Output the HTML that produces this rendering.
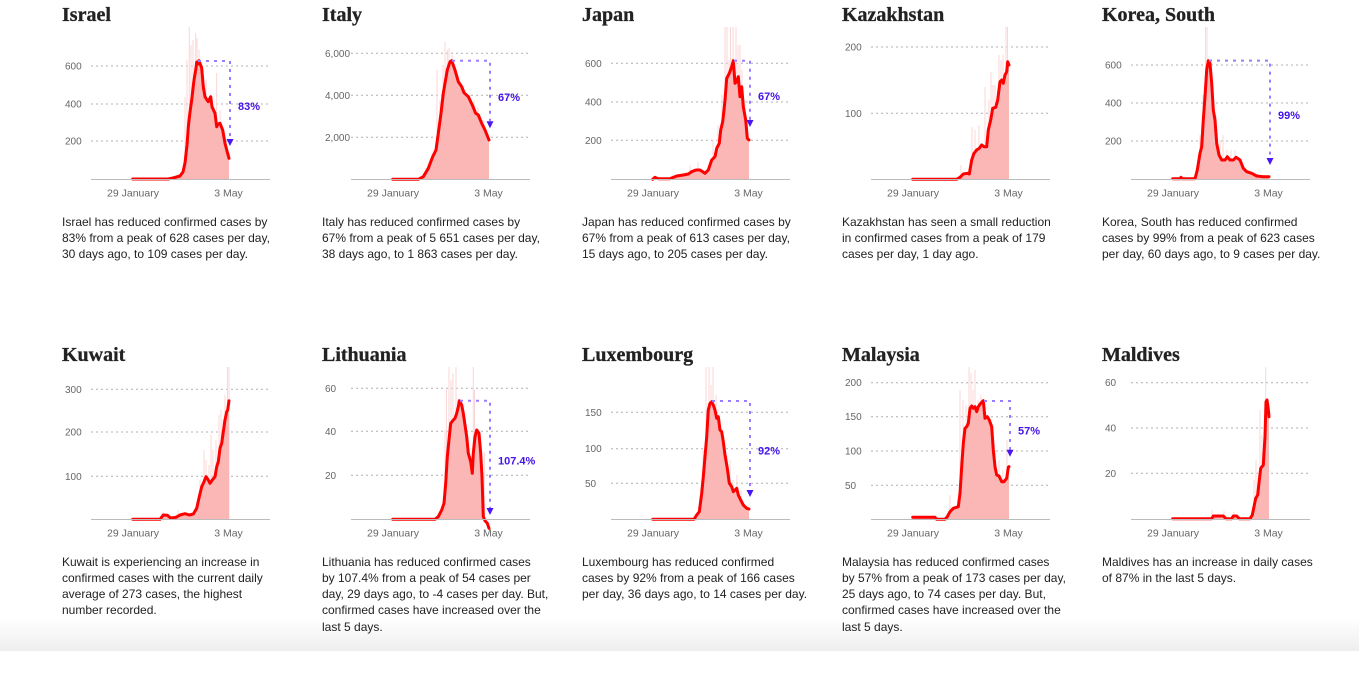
<!DOCTYPE html>
<html><head><meta charset="utf-8">
<style>
html,body{margin:0;padding:0;background:#fff;}
body{width:1359px;height:651px;position:relative;overflow:hidden;font-family:"Liberation Sans",sans-serif;}
.cell{position:absolute;width:260px;height:340px;}
.t{position:absolute;left:62px;top:5px;font-family:"Liberation Serif",serif;font-weight:bold;font-size:20px;line-height:20px;color:#222;white-space:nowrap;-webkit-text-stroke:0.3px #222;}
.p{position:absolute;left:62px;top:213.5px;font-size:12px;line-height:16.3px;color:#222;white-space:nowrap;}
svg{position:absolute;left:0;top:0;overflow:visible;}
.g{stroke:#b0b0b0;stroke-width:1;stroke-dasharray:2 3;}
.ax{stroke:#bbb;stroke-width:1;}
.yl{font-family:"Liberation Sans",sans-serif;font-size:10px;fill:#666;}
.xl{font-family:"Liberation Sans",sans-serif;font-size:10.5px;fill:#666;text-anchor:middle;}
.ln{fill:none;stroke:#ff0000;stroke-width:3;stroke-linejoin:round;stroke-linecap:round;}
.ar{fill:#fbb6b6;}
.sp{stroke:#fbd6d6;stroke-width:1;fill:none;}
.an{stroke:#9b7bff;stroke-width:2;stroke-dasharray:3 5;fill:none;}
.tri{fill:#4a17f2;}
.pc{font-family:"Liberation Sans",sans-serif;font-weight:bold;font-size:11px;fill:#4515e6;}
.shadow{position:absolute;left:0;top:618px;width:1359px;height:33px;background:linear-gradient(to bottom,rgba(0,0,0,0),rgba(0,0,0,0.065));}
</style></head><body>

<!-- Israel -->
<div class="cell" style="left:0;top:0">
<div class="t">Israel</div>
<svg width="300" height="200" viewBox="0 0 300 200">
<line class="g" x1="91" y1="66" x2="269" y2="66"/><line class="g" x1="91" y1="104" x2="269" y2="104"/><line class="g" x1="91" y1="141" x2="269" y2="141"/>
<text class="yl" x="65" y="69.5">600</text><text class="yl" x="65" y="107.5">400</text><text class="yl" x="65" y="144.5">200</text>
<path class="sp" d="M185 179V97M187 179V60M189.3 179V27M191 179V45M193 179V40M195.7 179V33M197 179V38M199 179V50M202 179V70M206 179V80M216.7 179V73M220 179V110"/>
<polygon class="ar" points="132.7,179 168,179 173,178 180,176 183,172 185,163 187,145 188.3,127 190,112 191.7,100 194,80 195.7,70 196.7,62 198,64 199,60.7 200,63.3 201.7,68 203.3,86.7 205,96.7 207,100 208.3,101.7 210,98 210.7,96.7 212,106.7 215,113.3 216.7,126.7 218,124 220,123.3 222.7,130 225,143.3 227,151 229,158.3 229,179"/>
<polyline class="ln" points="132.7,179 168,179 173,178 180,176 183,172 185,163 187,145 188.3,127 190,112 191.7,100 194,80 195.7,70 196.7,62 198,64 199,60.7 200,63.3 201.7,68 203.3,86.7 205,96.7 207,100 208.3,101.7 210,98 210.7,96.7 212,106.7 215,113.3 216.7,126.7 218,124 220,123.3 222.7,130 225,143.3 227,151 229,158.3"/>
<line class="ax" x1="91" y1="179.5" x2="270" y2="179.5"/>
<path class="an" d="M198 61H230V139"/><polygon class="tri" points="226.5,139 233.5,139 230,146"/>
<text class="pc" x="238" y="110">83%</text>
<text class="xl" x="133" y="196.5">29 January</text><text class="xl" x="228.5" y="196.5">3 May</text>
</svg>
<div class="p">Israel has reduced confirmed cases by<br>83% from a peak of 628 cases per day,<br>30 days ago, to 109 cases per day.</div>
</div>

<!-- Italy -->
<div class="cell" style="left:260px;top:0">
<div class="t">Italy</div>
<svg width="300" height="200" viewBox="0 0 300 200">
<line class="g" x1="91" y1="53.3" x2="269" y2="53.3"/><line class="g" x1="91" y1="95.3" x2="269" y2="95.3"/><line class="g" x1="91" y1="137.3" x2="269" y2="137.3"/>
<text class="yl" x="65" y="56.8">6,000</text><text class="yl" x="65" y="98.8">4,000</text><text class="yl" x="65" y="140.8">2,000</text>
<path class="sp" d="M177 179V70M180 179V100M183 179V65M185 179V41.7M187.3 179V50M189 179V48M192 179V55M198 179V75M201 179V90M205 179V90M210 179V95M214 179V100M218 179V108M223 179V120"/>
<polygon class="ar" points="132.7,179.3 158.3,179.3 163.3,176.7 168.3,168.3 172.7,156.7 176,150 178.3,133.3 181,113.3 183.3,93.3 185,83.3 187.3,70 190,61.7 191.7,60.7 195,70 198.3,81.7 201.7,86.7 204,92.7 208.3,96.7 212.3,105 215.7,113.3 218.3,115 221.7,123.3 225,130 229,140 229,179.3"/>
<polyline class="ln" points="132.7,179.3 158.3,179.3 163.3,176.7 168.3,168.3 172.7,156.7 176,150 178.3,133.3 181,113.3 183.3,93.3 185,83.3 187.3,70 190,61.7 191.7,60.7 195,70 198.3,81.7 201.7,86.7 204,92.7 208.3,96.7 212.3,105 215.7,113.3 218.3,115 221.7,123.3 225,130 229,140"/>
<line class="ax" x1="91" y1="179.5" x2="270" y2="179.5"/>
<path class="an" d="M192 60.7H230V121"/><polygon class="tri" points="226.5,121.3 233.5,121.3 230,128.3"/>
<text class="pc" x="238" y="101">67%</text>
<text class="xl" x="133" y="196.5">29 January</text><text class="xl" x="228.5" y="196.5">3 May</text>
</svg>
<div class="p">Italy has reduced confirmed cases by<br>67% from a peak of 5 651 cases per day,<br>38 days ago, to 1 863 cases per day.</div>
</div>

<!-- Japan -->
<div class="cell" style="left:520px;top:0">
<div class="t">Japan</div>
<svg width="300" height="200" viewBox="0 0 300 200">
<line class="g" x1="91" y1="63.3" x2="269" y2="63.3"/><line class="g" x1="91" y1="102" x2="269" y2="102"/><line class="g" x1="91" y1="140.3" x2="269" y2="140.3"/>
<text class="yl" x="65" y="66.8">600</text><text class="yl" x="65" y="105.5">400</text><text class="yl" x="65" y="143.8">200</text>
<path class="sp" d="M170 179V165M178 179V162M193 179V140M198 179V125M202 179V95M205 179V27M207 179V27M209 179V60M210.5 179V27M213 179V27M216 179V27M218 179V45M220 179V45M222 179V70M225 179V100"/>
<polygon class="ar" points="132.7,179.3 135,177.3 138,178.7 150,178.7 156.7,176 163.3,175 168.3,174 171.7,171.7 176,170 180,170 185,173.3 188.3,170 191.7,160 195,156.7 196.7,148.3 199.3,143.3 200.7,130 202.7,121.7 204,110 205,100 206.7,78.3 209.3,73.3 211.7,66.7 213.3,60.7 215,83.3 216.7,81.7 218.3,76.7 220,96.7 221.7,86.7 223.3,106.7 225.7,120 227.3,138.3 229,140 229,179.3"/>
<polyline class="ln" points="132.7,179.3 135,177.3 138,178.7 150,178.7 156.7,176 163.3,175 168.3,174 171.7,171.7 176,170 180,170 185,173.3 188.3,170 191.7,160 195,156.7 196.7,148.3 199.3,143.3 200.7,130 202.7,121.7 204,110 205,100 206.7,78.3 209.3,73.3 211.7,66.7 213.3,60.7 215,83.3 216.7,81.7 218.3,76.7 220,96.7 221.7,86.7 223.3,106.7 225.7,120 227.3,138.3 229,140"/>
<line class="ax" x1="91" y1="179.5" x2="270" y2="179.5"/>
<path class="an" d="M214 60.8H230V120"/><polygon class="tri" points="226.5,120 233.5,120 230,127"/>
<text class="pc" x="238" y="100">67%</text>
<text class="xl" x="133" y="196.5">29 January</text><text class="xl" x="228.5" y="196.5">3 May</text>
</svg>
<div class="p">Japan has reduced confirmed cases by<br>67% from a peak of 613 cases per day,<br>15 days ago, to 205 cases per day.</div>
</div>

<!-- Kazakhstan -->
<div class="cell" style="left:780px;top:0">
<div class="t">Kazakhstan</div>
<svg width="300" height="200" viewBox="0 0 300 200">
<line class="g" x1="91" y1="47" x2="269" y2="47"/><line class="g" x1="91" y1="113.3" x2="269" y2="113.3"/>
<text class="yl" x="65" y="50.5">200</text><text class="yl" x="65" y="116.8">100</text>
<path class="sp" d="M181 179V165M192 179V127M195 179V130M199 179V125M205 179V87M209 179V100M211 179V72M213 179V85M215 179V85M219 179V55M221 179V60M223 179V55M226 179V26.7M227.5 179V26.7"/>
<polygon class="ar" points="132.7,179.3 176.7,179.3 180,177.3 183.3,174 187.3,173.3 189.3,174 191.7,160 194,153.3 196.7,150 199.3,148.3 201.7,145 204,146.7 206.7,146.7 208.3,130 210.7,120 212.7,108.3 215.7,107.3 217.7,100 220,81.7 221.7,80 223.3,83.3 225,75 226.7,71.7 227.7,61.7 229,65 229,179.3"/>
<polyline class="ln" points="132.7,179.3 176.7,179.3 180,177.3 183.3,174 187.3,173.3 189.3,174 191.7,160 194,153.3 196.7,150 199.3,148.3 201.7,145 204,146.7 206.7,146.7 208.3,130 210.7,120 212.7,108.3 215.7,107.3 217.7,100 220,81.7 221.7,80 223.3,83.3 225,75 226.7,71.7 227.7,61.7 229,65"/>
<line class="ax" x1="91" y1="179.5" x2="270" y2="179.5"/>
<text class="xl" x="133" y="196.5">29 January</text><text class="xl" x="228.5" y="196.5">3 May</text>
</svg>
<div class="p">Kazakhstan has seen a small reduction<br>in confirmed cases from a peak of 179<br>cases per day, 1 day ago.</div>
</div>

<!-- Korea, South -->
<div class="cell" style="left:1040px;top:0">
<div class="t">Korea, South</div>
<svg width="300" height="200" viewBox="0 0 300 200">
<line class="g" x1="91" y1="65" x2="269" y2="65"/><line class="g" x1="91" y1="103" x2="269" y2="103"/><line class="g" x1="91" y1="141" x2="269" y2="141"/>
<text class="yl" x="65" y="68.5">600</text><text class="yl" x="65" y="106.5">400</text><text class="yl" x="65" y="144.5">200</text>
<path class="sp" d="M160 179V135M163 179V95M165.5 179V27M167 179V27M169 179V60M172 179V90M176 179V115M180 179V140M183 179V135M187 179V150M191 179V150M195 179V150M200 179V158"/>
<polygon class="ar" points="132.7,178.7 140,178.7 141,177.3 142,178.7 155,178.7 157.3,170 160,153.3 161.7,146.7 163.3,120 165,96.7 166.7,70 168.3,60.7 170,63.3 171.7,83.3 173.3,110 175,120 176.7,143.3 179,155 181.7,160 185,160 187.3,156.7 190,160 193.3,160 196,157.3 200,160 203.3,168.3 206.7,171.7 211.7,173.3 216.7,176 223.3,176.7 229,176.7 229,179.3 132.7,179.3"/>
<polyline class="ln" points="132.7,178.7 140,178.7 141,177.3 142,178.7 155,178.7 157.3,170 160,153.3 161.7,146.7 163.3,120 165,96.7 166.7,70 168.3,60.7 170,63.3 171.7,83.3 173.3,110 175,120 176.7,143.3 179,155 181.7,160 185,160 187.3,156.7 190,160 193.3,160 196,157.3 200,160 203.3,168.3 206.7,171.7 211.7,173.3 216.7,176 223.3,176.7 229,176.7"/>
<line class="ax" x1="91" y1="179.5" x2="270" y2="179.5"/>
<path class="an" d="M169 60.6H230V158"/><polygon class="tri" points="226.5,158 233.5,158 230,165"/>
<text class="pc" x="238" y="119">99%</text>
<text class="xl" x="133" y="196.5">29 January</text><text class="xl" x="228.5" y="196.5">3 May</text>
</svg>
<div class="p">Korea, South has reduced confirmed<br>cases by 99% from a peak of 623 cases<br>per day, 60 days ago, to 9 cases per day.</div>
</div>

<!-- Kuwait -->
<div class="cell" style="left:0;top:340px">
<div class="t">Kuwait</div>
<svg width="300" height="200" viewBox="0 0 300 200">
<line class="g" x1="91" y1="49.3" x2="269" y2="49.3"/><line class="g" x1="91" y1="92" x2="269" y2="92"/><line class="g" x1="91" y1="136.3" x2="269" y2="136.3"/>
<text class="yl" x="65" y="52.8">300</text><text class="yl" x="65" y="95.5">200</text><text class="yl" x="65" y="139.8">100</text>
<path class="sp" d="M163 179V172M178 179V170M200 179V140M204 179V110M206 179V120M209 179V125M211 179V95M213 179V110M216 179V100M219 179V75M221 179V70M223 179V80M225 179V55M227.5 179V27M229 179V27"/>
<polygon class="ar" points="132.7,179.3 160,179.3 163.3,175 167.3,175.3 170.7,178 176,177.3 180,175 185,173.7 189.3,175 193.3,174 196.7,168.3 199.3,156.7 201.7,146.7 204,141.7 206,136.7 208.3,140 210,143.3 212.3,140 215,136.7 216.7,126.7 218.3,121.7 220,108.3 221.7,103.3 223.3,91.7 225,80 226.7,71.7 227.7,70 229,60.7 229,179.3"/>
<polyline class="ln" points="132.7,179.3 160,179.3 163.3,175 167.3,175.3 170.7,178 176,177.3 180,175 185,173.7 189.3,175 193.3,174 196.7,168.3 199.3,156.7 201.7,146.7 204,141.7 206,136.7 208.3,140 210,143.3 212.3,140 215,136.7 216.7,126.7 218.3,121.7 220,108.3 221.7,103.3 223.3,91.7 225,80 226.7,71.7 227.7,70 229,60.7"/>
<line class="ax" x1="91" y1="179.5" x2="270" y2="179.5"/>
<text class="xl" x="133" y="196.5">29 January</text><text class="xl" x="228.5" y="196.5">3 May</text>
</svg>
<div class="p">Kuwait is experiencing an increase in<br>confirmed cases with the current daily<br>average of 273 cases, the highest<br>number recorded.</div>
</div>

<!-- Lithuania -->
<div class="cell" style="left:260px;top:340px">
<div class="t">Lithuania</div>
<svg width="300" height="200" viewBox="0 0 300 200">
<line class="g" x1="91" y1="48.3" x2="269" y2="48.3"/><line class="g" x1="91" y1="91.3" x2="269" y2="91.3"/><line class="g" x1="91" y1="135.3" x2="269" y2="135.3"/>
<text class="yl" x="65" y="51.8">60</text><text class="yl" x="65" y="94.8">40</text><text class="yl" x="65" y="138.8">20</text>
<path class="sp" d="M185 179V90M186.5 179V50M189 179V27M191 179V40M193 179V33M196 179V27M198 179V70M201 179V85M205 179V100M208 179V130M213.3 179V27M214.5 179V50M217 179V90M224.3 179V112"/>
<polygon class="ar" points="132.7,179.3 175,179.3 178.3,176.7 181.7,170 184,163.3 185.7,143.3 187.3,116.7 189.3,96.7 190.7,83.3 193.3,80 195,78.3 196.7,73.3 198.3,66.7 199.3,60.7 201.7,65 203.3,73.3 205,85 206.7,96.7 208.3,113.3 210.7,121.7 212.3,133.3 213.3,113.3 215,96.7 216.7,90 219,93.3 220.7,113.3 222,136.7 223.3,176.7 224,179.3"/>
<polyline class="ln" points="132.7,179.3 175,179.3 178.3,176.7 181.7,170 184,163.3 185.7,143.3 187.3,116.7 189.3,96.7 190.7,83.3 193.3,80 195,78.3 196.7,73.3 198.3,66.7 199.3,60.7 201.7,65 203.3,73.3 205,85 206.7,96.7 208.3,113.3 210.7,121.7 212.3,133.3 213.3,113.3 215,96.7 216.7,90 219,93.3 220.7,113.3 222,136.7 223.3,176.7 225,180.7 227.3,183.3 229,188.3"/>
<line class="ax" x1="91" y1="179.5" x2="270" y2="179.5"/>
<path class="an" d="M200 60.7H230V168"/><polygon class="tri" points="226.5,168 233.5,168 230,175"/>
<text class="pc" x="238" y="124.7">107.4%</text>
<text class="xl" x="133" y="196.5">29 January</text><text class="xl" x="228.5" y="196.5">3 May</text>
</svg>
<div class="p">Lithuania has reduced confirmed cases<br>by 107.4% from a peak of 54 cases per<br>day, 29 days ago, to -4 cases per day. But,<br>confirmed cases have increased over the<br>last 5 days.</div>
</div>

<!-- Luxembourg -->
<div class="cell" style="left:520px;top:340px">
<div class="t">Luxembourg</div>
<svg width="300" height="200" viewBox="0 0 300 200">
<line class="g" x1="91" y1="72.3" x2="269" y2="72.3"/><line class="g" x1="91" y1="108.7" x2="269" y2="108.7"/><line class="g" x1="91" y1="143.3" x2="269" y2="143.3"/>
<text class="yl" x="65" y="75.8">150</text><text class="yl" x="65" y="112.2">100</text><text class="yl" x="65" y="146.8">50</text>
<path class="sp" d="M183 179V110M186 179V27M189 179V27M191 179V45M193 179V27M196 179V55M200 179V80M203 179V100M207 179V115M210 179V120M213 179V140M217 179V135M221 179V150"/>
<polygon class="ar" points="132.7,179.3 174,179.3 176.7,175 179.3,171.7 181.7,153.3 183.3,136.7 185,116.7 186.7,96.7 188.3,70 190,63.3 191.7,61.7 193.3,65 195,70 196.7,78.3 198.3,76.7 200,90 201.7,91.7 203.3,101.7 205,115 207.3,128.3 209.3,143.3 211.7,146.7 213.3,151.7 215,150 216.7,148.3 218.3,155 220.7,160 223.3,165 226.7,168.3 229,169 229,179.3"/>
<polyline class="ln" points="132.7,179.3 174,179.3 176.7,175 179.3,171.7 181.7,153.3 183.3,136.7 185,116.7 186.7,96.7 188.3,70 190,63.3 191.7,61.7 193.3,65 195,70 196.7,78.3 198.3,76.7 200,90 201.7,91.7 203.3,101.7 205,115 207.3,128.3 209.3,143.3 211.7,146.7 213.3,151.7 215,150 216.7,148.3 218.3,155 220.7,160 223.3,165 226.7,168.3 229,169"/>
<line class="ax" x1="91" y1="179.5" x2="270" y2="179.5"/>
<path class="an" d="M192 61H230V150"/><polygon class="tri" points="226.5,150 233.5,150 230,157"/>
<text class="pc" x="238" y="114.7">92%</text>
<text class="xl" x="133" y="196.5">29 January</text><text class="xl" x="228.5" y="196.5">3 May</text>
</svg>
<div class="p">Luxembourg has reduced confirmed<br>cases by 92% from a peak of 166 cases<br>per day, 36 days ago, to 14 cases per day.</div>
</div>

<!-- Malaysia -->
<div class="cell" style="left:780px;top:340px">
<div class="t">Malaysia</div>
<svg width="300" height="200" viewBox="0 0 300 200">
<line class="g" x1="91" y1="42.7" x2="269" y2="42.7"/><line class="g" x1="91" y1="76.7" x2="269" y2="76.7"/><line class="g" x1="91" y1="111" x2="269" y2="111"/><line class="g" x1="91" y1="145.3" x2="269" y2="145.3"/>
<text class="yl" x="65" y="46.2">200</text><text class="yl" x="65" y="80.2">150</text><text class="yl" x="65" y="114.5">100</text><text class="yl" x="65" y="148.8">50</text>
<path class="sp" d="M170 179V155M180 179V50M183 179V60M186 179V65M189 179V27M191 179V33M193 179V50M195 179V30M198 179V60M201 179V55M204 179V70M207 179V75M212 179V90M215 179V110M219 179V120M223 179V130M227 179V100"/>
<polygon class="ar" points="132.7,177.3 155,177.3 156.7,179.3 165,179.3 167.3,176.7 170,171.7 173.3,168.3 178.3,166.7 180,153.3 181.7,126.7 183.3,103.3 185,88.3 186.7,86.7 188.3,83.3 190,68.3 191.7,66 193.3,68.3 195,66.7 196.7,71.7 198.3,66.7 200.7,63.3 203.3,60.7 205,78.3 207.3,76.7 209.3,80 211.7,86.7 213.3,110 215,126.7 216.7,135 219,136 221.7,141.7 224,141.7 226.7,138.3 228.3,127.3 229,126.7 229,179.3 132.7,179.3"/>
<polyline class="ln" points="132.7,177.3 155,177.3 156.7,179.3 165,179.3 167.3,176.7 170,171.7 173.3,168.3 178.3,166.7 180,153.3 181.7,126.7 183.3,103.3 185,88.3 186.7,86.7 188.3,83.3 190,68.3 191.7,66 193.3,68.3 195,66.7 196.7,71.7 198.3,66.7 200.7,63.3 203.3,60.7 205,78.3 207.3,76.7 209.3,80 211.7,86.7 213.3,110 215,126.7 216.7,135 219,136 221.7,141.7 224,141.7 226.7,138.3 228.3,127.3 229,126.7"/>
<line class="ax" x1="91" y1="179.5" x2="270" y2="179.5"/>
<path class="an" d="M204 61H230V110"/><polygon class="tri" points="226.5,109.7 233.5,109.7 230,116.7"/>
<text class="pc" x="238" y="94.7">57%</text>
<text class="xl" x="133" y="196.5">29 January</text><text class="xl" x="228.5" y="196.5">3 May</text>
</svg>
<div class="p">Malaysia has reduced confirmed cases<br>by 57% from a peak of 173 cases per day,<br>25 days ago, to 74 cases per day. But,<br>confirmed cases have increased over the<br>last 5 days.</div>
</div>

<!-- Maldives -->
<div class="cell" style="left:1040px;top:340px">
<div class="t">Maldives</div>
<svg width="300" height="200" viewBox="0 0 300 200">
<line class="g" x1="91" y1="42.7" x2="269" y2="42.7"/><line class="g" x1="91" y1="88" x2="269" y2="88"/><line class="g" x1="91" y1="133.3" x2="269" y2="133.3"/>
<text class="yl" x="65" y="46.2">60</text><text class="yl" x="65" y="91.5">40</text><text class="yl" x="65" y="136.8">20</text>
<path class="sp" d="M172 179V170M184 179V171M194 179V172M214 179V140M216 179V120M220 179V70M222 179V95M225.7 179V27M228 179V60"/>
<polygon class="ar" points="132.7,178.7 171.7,178.7 173.3,176 183.3,176 186,178.7 191.7,178.7 193.3,176 196.7,176 199.3,178.7 210,178.7 212.3,175 214,166.7 215.7,158.3 217.7,155 219.3,140 220.7,128.3 223.3,125 225,96.7 226,61.7 227,60 228,66.7 229,76.7 229,179.3 132.7,179.3"/>
<polyline class="ln" points="132.7,178.7 171.7,178.7 173.3,176 183.3,176 186,178.7 191.7,178.7 193.3,176 196.7,176 199.3,178.7 210,178.7 212.3,175 214,166.7 215.7,158.3 217.7,155 219.3,140 220.7,128.3 223.3,125 225,96.7 226,61.7 227,60 228,66.7 229,76.7"/>
<line class="ax" x1="91" y1="179.5" x2="270" y2="179.5"/>
<text class="xl" x="133" y="196.5">29 January</text><text class="xl" x="228.5" y="196.5">3 May</text>
</svg>
<div class="p">Maldives has an increase in daily cases<br>of 87% in the last 5 days.</div>
</div>

<div class="shadow"></div>
</body></html>
